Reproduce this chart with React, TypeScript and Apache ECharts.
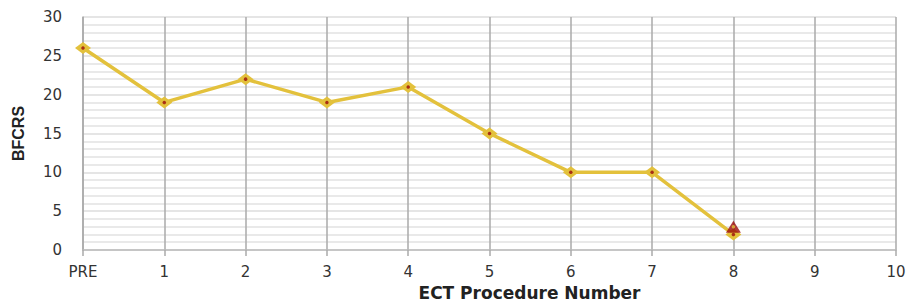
import React, { useEffect, useRef } from "react";
import * as echarts from "echarts";

const categories = ["PRE", "1", "2", "3", "4", "5", "6", "7", "8", "9", "10"];
const bfcrsValues: (number | null)[] = [26, 19, 22, 19, 21, 15, 10, 10, 2, null, null];
const markerValues: (number | null)[] = [null, null, null, null, null, null, null, null, 3, null, null];
const yTicks = [0, 5, 10, 15, 20, 25, 30];

export default function App() {
  const ref = useRef<HTMLDivElement>(null);
  useEffect(() => {
    if (!ref.current) return;
    const chart = echarts.init(ref.current, null, { renderer: "svg" });
    const yellow = "#E3C13C";
    const darkRed = "#9A0A0A";
    chart.setOption({
      animation: false,
      backgroundColor: "#ffffff",
      grid: { left: 83, right: 13, top: 17, bottom: 54, outerBoundsMode: "none", containLabel: false },
      xAxis: {
        type: "category",
        data: categories,
        boundaryGap: false,
        name: "ECT Procedure Number",
        nameLocation: "middle",
        nameGap: 34,
        nameTextStyle: {
          fontFamily: "DejaVu Sans",
          fontWeight: "bold",
          fontSize: 17,
          color: "#222",
          padding: [0, 0, 0, 80],
        },
        axisLine: { show: true, lineStyle: { color: "#bbbbbb", width: 1.5 } },
        axisTick: { show: true, length: 6, alignWithLabel: true, lineStyle: { color: "#aaaaaa", width: 1.5 } },
        axisLabel: { fontFamily: "DejaVu Sans", fontSize: 15, color: "#333", margin: 14, interval: 0 },
        splitLine: { show: true, interval: 0, lineStyle: { color: "#aaaaaa", width: 1.5 } },
      },
      yAxis: {
        type: "value",
        min: yTicks[0],
        max: yTicks[yTicks.length - 1],
        interval: 5,
        name: "BFCRS",
        nameLocation: "middle",
        nameGap: 57,
        nameRotate: 90,
        nameTextStyle: {
          fontFamily: "Liberation Sans",
          fontWeight: "bold",
          fontSize: 16,
          color: "#222",
        },
        axisLine: { show: true, lineStyle: { color: "#aaaaaa", width: 1.5 } },
        axisTick: { show: false },
        axisLabel: { fontFamily: "DejaVu Sans", fontSize: 15, color: "#333", margin: 21 },
        splitLine: { show: true, lineStyle: { color: "#dddddd", width: 1.5 } },
        minorTick: { show: false, splitNumber: 5 },
        minorSplitLine: { show: true, lineStyle: { color: "#e2e2e2", width: 1.5 } },
      },
      series: [
        {
          type: "line",
          data: bfcrsValues,
          symbol: "diamond",
          symbolSize: [16, 12],
          lineStyle: { color: yellow, width: 3.5 },
          itemStyle: { color: yellow },
          z: 2,
        },
        {
          type: "scatter",
          data: bfcrsValues,
          symbol: "circle",
          symbolSize: 3.5,
          itemStyle: { color: darkRed },
          z: 3,
        },
        {
          type: "scatter",
          data: markerValues,
          symbol: "triangle",
          symbolSize: [15, 12],
          itemStyle: { color: darkRed },
          z: 4,
        },
        {
          type: "scatter",
          data: markerValues,
          symbol: "circle",
          symbolSize: 3.5,
          itemStyle: { color: yellow },
          z: 5,
        },
      ],
    });
    return () => chart.dispose();
  }, []);
  return (
    <div
      ref={ref}
      style={{ position: "absolute", left: 0, top: 0, width: 909, height: 304 }}
    />
  );
}
